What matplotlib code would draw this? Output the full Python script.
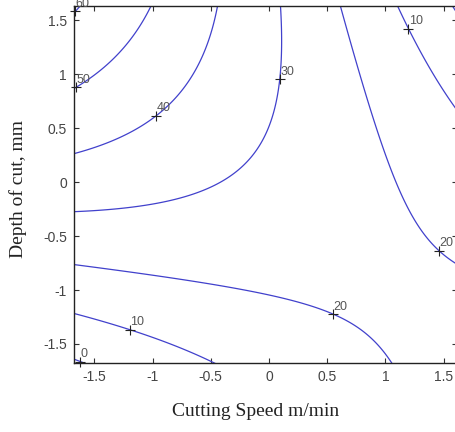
import numpy as np
import matplotlib
matplotlib.use("Agg")
import matplotlib.pyplot as plt

# Points: coded cutting speed, coded depth of cut, response level
trace_speed = [-1.68, -1.33, -1.00,
               -1.68, -0.96, -0.59, -0.45,
               -1.68, -1.24, -0.76, -0.59, -0.25, 0.035, 0.10, 0.11,
               0.61, 0.74, 0.95, 1.15, 1.24, 1.45, 1.60,
               1.11, 1.20, 1.32, 1.60,
               -1.68, -0.59, -0.02, 0.55, 0.84, 1.06,
               -1.68, -1.20, -0.59, -0.49,
               -1.62, -1.67]
trace_depth = [0.84, 1.13, 1.63,
               0.26, 0.60, 1.22, 1.63,
               -0.275, -0.23, -0.13, -0.09, 0.11, 0.57, 0.95, 1.63,
               1.63, 1.13, 0.36, -0.17, -0.35, -0.64, -0.75,
               1.63, 1.42, 1.16, 0.69,
               -0.77, -0.93, -1.03, -1.23, -1.46, -1.68,
               -1.21, -1.37, -1.60, -1.68,
               -1.66, 1.60]
trace_level = [50, 50, 50,
               40, 40, 40, 40,
               30, 30, 30, 30, 30, 30, 30, 30,
               20, 20, 20, 20, 20, 20, 20,
               10, 10, 10, 10,
               20, 20, 20, 20, 20, 20,
               10, 10, 10, 10,
               0, 60]

contour_levels = [0, 10, 20, 30, 40, 50, 60]

# Contour label anchors (approximate; snapped onto the drawn line)
label_speed = [-1.66, -1.65, -0.96, 0.10, 1.20, 1.45, 0.55, -1.20, -1.62]
label_depth = [1.58, 0.87, 0.60, 0.95, 1.42, -0.64, -1.23, -1.37, -1.66]
label_level = [60, 50, 40, 30, 10, 20, 20, 10, 0]

xticks = [-1.5, -1, -0.5, 0, 0.5, 1, 1.5]
xtick_labels = ["-1.5", "-1", "-0.5", "0", "0.5", "1", "1.5"]
yticks = [-1.5, -1, -0.5, 0, 0.5, 1, 1.5]
ytick_labels = ["-1.5", "-1", "-0.5", "0", "0.5", "1", "1.5"]

# Second-order response surface fitted to the traced points
xs = np.array(trace_speed)
ys = np.array(trace_depth)
zs = np.array(trace_level, dtype=float)
design = np.column_stack([np.ones_like(xs), xs, ys, xs * ys, xs ** 2, ys ** 2])
coef, *_ = np.linalg.lstsq(design, zs, rcond=None)


def surface(x, y):
    return (coef[0] + coef[1] * x + coef[2] * y + coef[3] * x * y
            + coef[4] * x ** 2 + coef[5] * y ** 2)


xlim = (-1.674, 1.614)
ylim = (-1.676, 1.63)
gx = np.linspace(-1.75, 1.75, 400)
gy = np.linspace(-1.75, 1.75, 400)
GX, GY = np.meshgrid(gx, gy)
GZ = surface(GX, GY)

fig = plt.figure(figsize=(4.55, 4.32), dpi=100)
ax = fig.add_axes([74 / 455, 69 / 432, 383 / 455, 357 / 432])

line_color = "#4141cc"
cs = ax.contour(GX, GY, GZ, levels=contour_levels, colors=line_color,
                linewidths=0.9)

# MATLAB-style labels: a '+' on the line with the value beside it
for lx, ly, lv in zip(label_speed, label_depth, label_level):
    idx = contour_levels.index(lv)
    segs = [s for s in cs.allsegs[idx] if len(s)]
    if segs:
        pts = np.vstack(segs)
        d = (pts[:, 0] - lx) ** 2 + (pts[:, 1] - ly) ** 2
        px, py = pts[np.argmin(d)]
    else:
        px, py = lx, ly
    ax.plot([px], [py], marker="+", color="#222222", markersize=7,
            markeredgewidth=0.8, clip_on=False, zorder=5)
    ax.annotate(f"{lv:g}", (px, py), xytext=(0.3, 1.0),
                textcoords="offset points", ha="left", va="bottom",
                fontsize=9, color="#555555", family="Liberation Sans",
                annotation_clip=False, zorder=6)

ax.set_xlim(*xlim)
ax.set_ylim(*ylim)
ax.set_xticks(xticks)
ax.set_xticklabels(xtick_labels)
ax.set_yticks(yticks)
ax.set_yticklabels(ytick_labels)
ax.tick_params(direction="in", length=3.5, width=0.8, top=True, right=True,
               labelsize=10, labelcolor="#444444", color="#333333", pad=5)
for lab in ax.get_xticklabels() + ax.get_yticklabels():
    lab.set_family("Liberation Sans")
for sp in ax.spines.values():
    sp.set_color("#222222")
    sp.set_linewidth(1.0)

fig.text(256 / 455, 1 - 411 / 432, "Cutting Speed m/min", ha="center",
         va="center", fontsize=14, family="Liberation Serif", color="#222222")
fig.text(18 / 455, 1 - 189 / 432, "Depth of cut, mm", ha="center",
         va="center", rotation=90, fontsize=14, family="Liberation Serif",
         color="#222222")

fig.savefig("out.png", dpi=100, facecolor="white")
